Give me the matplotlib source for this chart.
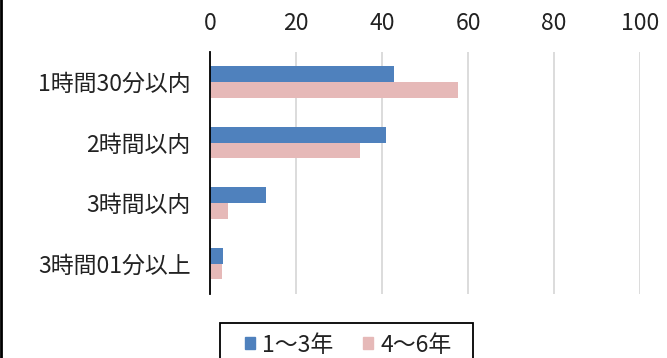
import matplotlib
matplotlib.use('Agg')
import matplotlib.pyplot as plt
import numpy as np
from matplotlib.lines import Line2D
from matplotlib.patches import Rectangle

plt.rcParams['font.family'] = ['Noto Sans CJK JP', 'DejaVu Sans']

categories = ['1時間30分以内', '2時間以内', '3時間以内', '3時間01分以上']
series_names = ['1～3年', '4～6年']
vals_13 = [42.8, 40.9, 13.0, 3.0]
vals_46 = [57.7, 34.8, 4.2, 2.8]
colors = ['#4F81BD', '#E6B9B8']
xticks = [0, 20, 40, 60, 80, 100]

fig = plt.figure(figsize=(6.67, 3.58), dpi=100)
ax = fig.add_axes([0.315, 0.179, 0.6445, 0.676])

y = np.arange(len(categories))
h = 0.26
ax.barh(y - h / 2, vals_13, height=h, color=colors[0], label=series_names[0])
ax.barh(y + h / 2, vals_46, height=h, color=colors[1], label=series_names[1])

ax.set_xlim(0, 100)
ax.set_ylim(len(categories) - 0.5, -0.5)
ax.set_xticks(xticks)
ax.set_yticks(y)
ax.set_yticklabels(categories, fontsize=16.5, color='#222222')
ax.xaxis.tick_top()
ax.tick_params(axis='x', length=0, labelsize=16.5, pad=12, labelcolor='#222222')
ax.tick_params(axis='y', length=0, pad=14)
ax.grid(axis='x', color='#D9D9D9', linewidth=1.3)
ax.set_axisbelow(True)
for s in ['top', 'right', 'bottom']:
    ax.spines[s].set_visible(False)
ax.spines['left'].set_color('black')
ax.spines['left'].set_linewidth(1.3)

# outer frame remnants
fig.add_artist(Line2D([0.002, 0.002], [0, 1], color='black', linewidth=2, transform=fig.transFigure))
fig.add_artist(Rectangle((220 / 667, -0.05), 253 / 667, (358 - 323) / 358 + 0.05,
                         transform=fig.transFigure, fill=False, edgecolor='black', linewidth=1.3))

handles = [Rectangle((0, 0), 1, 1, color=c) for c in colors]
fig.legend(handles, series_names, loc='center', bbox_to_anchor=(348 / 667, 1 - 345 / 358),
           ncol=2, frameon=False, fontsize=16.5, handlelength=0.45, handleheight=0.45,
           handletextpad=0.3, columnspacing=1.3, labelcolor='#222222')

fig.savefig('out.png', dpi=100)
